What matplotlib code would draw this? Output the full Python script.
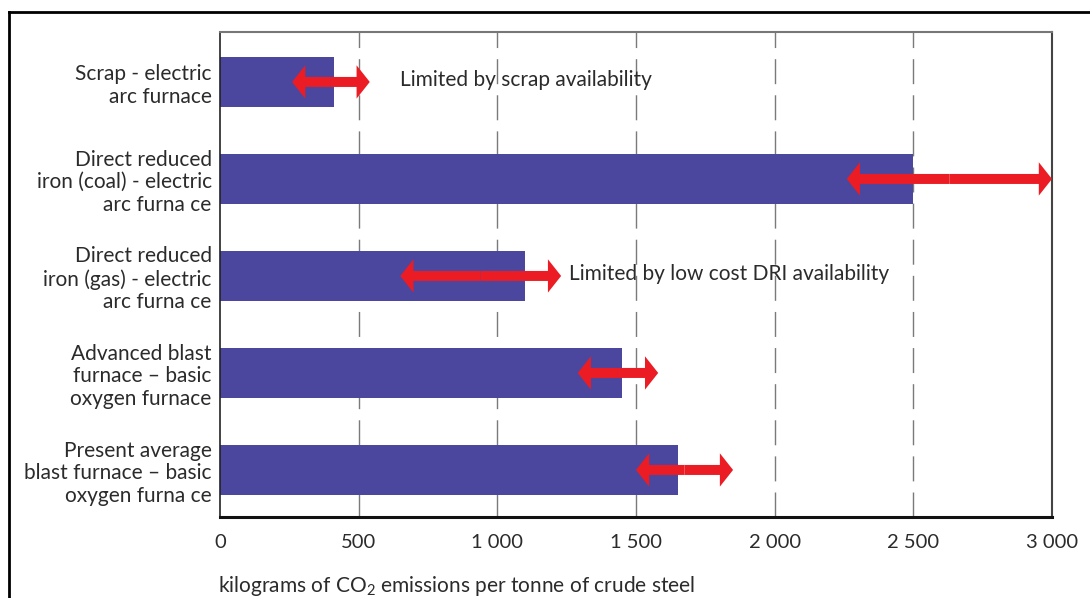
import matplotlib
matplotlib.use("Agg")
import matplotlib.pyplot as plt
from matplotlib.patches import FancyArrowPatch
from matplotlib.lines import Line2D

categories = [
    "Scrap - electric\narc furnace",
    "Direct reduced\niron (coal) - electric\narc furna ce",
    "Direct reduced\niron (gas) - electric\narc furna ce",
    "Advanced blast\nfurnace \u2013 basic\noxygen furnace",
    "Present average\nblast furnace \u2013 basic\noxygen furna ce",
]
emissions = [410, 2500, 1100, 1450, 1650]
range_low = [260, 2260, 650, 1290, 1500]
range_high = [540, 3000, 1230, 1580, 1850]
notes = ["Limited by scrap availability", "", "Limited by low cost DRI availability", "", ""]
note_x = [650, None, 1260, None, None]
xticks = [0, 500, 1000, 1500, 2000, 2500, 3000]
xtick_labels = ["0", "500", "1 000", "1 500", "2 000", "2 500", "3 000"]
xlabel = "kilograms of CO$_2$ emissions per tonne of crude steel"

FONT = ["Lato", "DejaVu Sans"]
plt.rcParams["font.family"] = FONT
plt.rcParams["mathtext.fontset"] = "custom"
plt.rcParams["mathtext.rm"] = "Lato"

BAR = "#4B479E"
RED = "#EC1C24"
TXT = "#2b2b2b"
FS = 15
FS_TICK = 14.5

fig = plt.figure(figsize=(10.9, 5.98), dpi=100)
ax = fig.add_axes([220/1090, 1-517/598, (1052-220)/1090, (517-32)/598])

ypos = list(range(len(categories)))
ax.barh(ypos, emissions, height=0.515, color=BAR, zorder=2)
ax.set_xlim(0, 3000)
ax.set_ylim(4.485, -0.515)

for x in xticks[1:-1]:
    ax.axvline(x, color="#7a7a7a", lw=1.0, linestyle=(0, (18, 8)), zorder=1)

for y, lo, hi in zip(ypos, range_low, range_high):
    mid = (lo + hi) / 2
    for end in (lo, hi):
        ap = FancyArrowPatch((mid, y), (end, y),
                             arrowstyle="simple,head_length=0.95,head_width=2.4,tail_width=0.72",
                             mutation_scale=10, color=RED, lw=0,
                             shrinkA=0, shrinkB=0, zorder=4)
        ax.add_patch(ap)

for y, n, nx in zip(ypos, notes, note_x):
    if n:
        ax.text(nx, y - 0.02, n, ha="left", va="center", fontsize=FS, color=TXT, zorder=5)

ax.set_yticks(ypos)
ax.set_yticklabels(categories, fontsize=FS, color=TXT, linespacing=1.16)
ax.set_xticks(xticks)
ax.set_xticklabels(xtick_labels, fontsize=FS_TICK, color=TXT)
ax.tick_params(axis="both", length=0)
ax.tick_params(axis="x", pad=12.5)
ax.tick_params(axis="y", pad=6)

ax.spines["left"].set_color("#222222")
ax.spines["left"].set_linewidth(1.2)
ax.spines["bottom"].set_color("#111111")
ax.spines["bottom"].set_linewidth(2.2)
ax.spines["top"].set_color("#777777")
ax.spines["top"].set_linewidth(1.5)
ax.spines["right"].set_color("#444444")
ax.spines["right"].set_linewidth(1.5)

fig.text(218/1090, 1-586/598, xlabel, ha="left", va="center", fontsize=FS, color=TXT)

# outer frame (partial, as cropped)
fig.add_artist(Line2D([9/1090, 1.0], [1-12/598, 1-12/598], transform=fig.transFigure, color="black", lw=2))
fig.add_artist(Line2D([9/1090, 9/1090], [0, 1-12/598], transform=fig.transFigure, color="black", lw=2))

fig.savefig("out.png", dpi=100)
